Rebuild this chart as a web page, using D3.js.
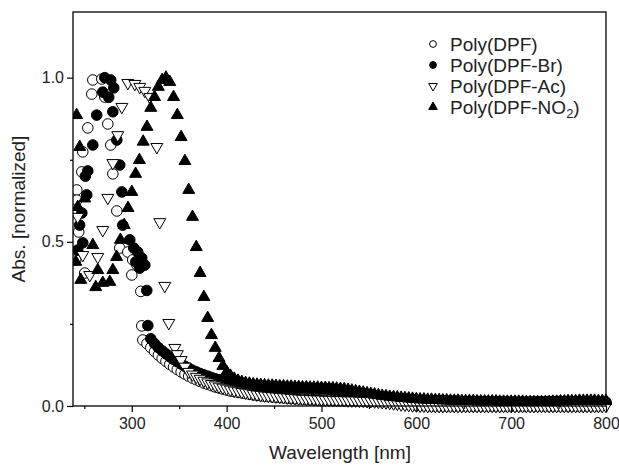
<!DOCTYPE html>
<html>
<head>
<meta charset="utf-8">
<script src="https://cdn.jsdelivr.net/npm/d3@7/dist/d3.min.js"></script>
<style>
  html, body { margin: 0; padding: 0; background: #fff; }
  svg { display: block; font-family: "Liberation Sans", Arial, sans-serif; }
</style>
</head>
<body>
<svg id="chart" width="619" height="468"></svg>
<script>
// Normalized UV-vis absorption of four polymers.
// Short-wavelength region (irregular, noisy readings) as [wavelength, value] pairs,
// the rest as values on a 4 nm grid starting at the given wavelength.
const STEP = 4;

const dpfScatter = [[258.9,0.993],[268.4,0.996],[257.8,0.950],[271.5,0.941],[253.6,0.847],[274.7,0.859],
  [248.3,0.774],[277.8,0.795],[247.3,0.713],[280.0,0.707],[242.0,0.658],[242.0,0.627],[284.2,0.594],
  [244.0,0.530],[240.9,0.445],[250.4,0.405],[287.3,0.481],[295.8,0.469],[301.0,0.445],[300.0,0.399],
  [305.3,0.430],[309.5,0.349],[310.5,0.244],[311.6,0.201]];
const dpfStart = 316;
const dpfValues = [0.190,0.178,0.166,0.155,0.145,0.136,0.127,0.119,0.111,0.104,0.097,0.091,0.085,0.080,0.075,
  0.070,0.066,0.062,0.058,0.055,0.052,0.049,0.046,0.044,0.042,0.040,0.038,0.036,0.034,0.033,0.031,0.030,
  0.029,0.028,0.027,0.026,0.025,0.024,0.023,0.022,0.022,0.021,0.020,0.020,0.019,0.019,0.018,0.018,0.018,
  0.017,0.017,0.017,0.017,0.016,0.016,0.016,0.016,0.015,0.015,0.015,0.014,0.014,0.013,0.013,0.012,0.011,
  0.010,0.009,0.007,0.006,0.004,0.003,0.002,0.001,0.001,0.000,0.000,0.000,0.000,0.000,0.000,0.000,0.000,
  0.000,0.000,0.000,0.000,0.000,0.000,0.000,0.000,0.000,0.000,0.000,0.000,0.000,0.000,0.000,0.000,0.000,
  0.000,0.000,0.000,0.000,0.000,0.000,0.000,0.000,0.000,0.000,0.000,0.000,0.000,0.000,0.000,0.000,0.000,
  0.000,0.000,0.000];

const brScatter = [[271.5,1.000],[277.8,0.993],[281.0,0.969],[269.4,0.956],[275.7,0.940],[263.0,0.886],
  [280.0,0.896],[258.9,0.795],[284.2,0.810],[253.6,0.716],[287.3,0.734],[252.5,0.643],[289.5,0.652],
  [251.0,0.700],[247.3,0.588],[245.0,0.551],[290.5,0.551],[248.3,0.497],[243.0,0.475],[297.9,0.506],
  [302.1,0.481],[306.3,0.469],[310.5,0.451],[313.7,0.429],[308.4,0.420],[304.2,0.439],[315.8,0.352],
  [316.9,0.245]];
const brStart = 320;
const brValues = [0.205,0.190,0.178,0.168,0.159,0.150,0.142,0.135,0.128,0.121,0.115,0.109,0.104,0.099,0.095,
  0.091,0.087,0.083,0.080,0.077,0.074,0.072,0.070,0.068,0.066,0.064,0.063,0.062,0.061,0.060,0.060,0.059,
  0.059,0.058,0.058,0.057,0.057,0.056,0.056,0.055,0.055,0.054,0.054,0.053,0.053,0.052,0.052,0.051,0.050,
  0.049,0.048,0.046,0.044,0.042,0.040,0.038,0.036,0.034,0.032,0.030,0.029,0.027,0.026,0.025,0.024,0.023,
  0.022,0.021,0.020,0.019,0.018,0.017,0.017,0.017,0.016,0.016,0.016,0.016,0.015,0.015,0.015,0.015,0.014,
  0.014,0.014,0.014,0.014,0.013,0.013,0.013,0.013,0.013,0.013,0.013,0.012,0.012,0.012,0.012,0.012,0.012,
  0.012,0.013,0.013,0.013,0.013,0.014,0.014,0.014,0.014,0.014,0.014,0.013,0.013,0.013,0.013,0.013,0.012,
  0.012,0.012,0.012,0.012];

const acScatter = [[295.8,0.984],[303.2,0.981],[308.4,0.972],[313.7,0.960],[319.0,0.941],[289.5,0.911],
  [285.2,0.825],[326.4,0.789],[280.0,0.740],[274.7,0.634],[329.5,0.560],[269.4,0.536],[243.0,0.576],
  [248.3,0.460],[264.1,0.454],[255.7,0.399],[334.8,0.366],[339.0,0.253],[345.4,0.177]];
const acStart = 348;
const acValues = [0.158,0.140,0.120,0.104,0.096,0.089,0.083,0.077,0.072,0.067,0.063,0.059,0.056,0.053,0.050,
  0.047,0.045,0.043,0.041,0.039,0.037,0.035,0.034,0.032,0.031,0.030,0.029,0.028,0.027,0.026,0.025,0.024,
  0.023,0.022,0.022,0.021,0.021,0.020,0.020,0.019,0.019,0.019,0.018,0.018,0.018,0.017,0.017,0.017,0.016,
  0.016,0.015,0.015,0.014,0.013,0.012,0.011,0.010,0.008,0.007,0.005,0.004,0.003,0.002,0.002,0.001,0.001,
  0.000,0.000,0.000,0.000,0.000,0.000,0.000,0.000,0.000,0.000,0.000,0.000,0.000,0.000,0.000,0.000,0.000,
  0.000,0.000,0.000,0.000,0.000,0.000,0.000,0.000,0.000,0.000,0.000,0.000,0.000,0.000,0.000,0.000,0.000,
  0.000,0.000,0.000,0.000,0.000,0.000,0.000,0.000,0.000,0.000,0.000,0.000,0.000,0.000];

const no2Scatter = [[241.8,0.886],[245.1,0.789],[243.0,0.606],[250.4,0.632],[240.9,0.439],[246.2,0.384],
  [258.9,0.490],[264.1,0.414],[269.4,0.375],[276.8,0.378],[262.0,0.362]];
const no2Start = 280;
const no2Values = [0.414,0.454,0.506,0.551,0.603,0.652,0.707,0.749,0.805,0.850,0.908,0.941,0.972,0.993,1.000,
  0.987,0.941,0.886,0.819,0.746,0.658,0.576,0.484,0.405,0.332,0.268,0.216,0.177,0.146,0.122,0.104,0.092,
  0.083,0.077,0.073,0.070,0.068,0.066,0.065,0.064,0.063,0.062,0.062,0.061,0.060,0.060,0.059,0.059,0.058,
  0.058,0.057,0.057,0.056,0.056,0.056,0.055,0.055,0.054,0.054,0.053,0.052,0.051,0.049,0.047,0.045,0.043,
  0.041,0.039,0.037,0.035,0.033,0.031,0.030,0.028,0.027,0.026,0.025,0.024,0.023,0.022,0.021,0.020,0.020,
  0.019,0.019,0.018,0.018,0.017,0.017,0.016,0.016,0.016,0.015,0.015,0.015,0.015,0.014,0.014,0.014,0.014,
  0.014,0.014,0.013,0.013,0.013,0.013,0.013,0.013,0.013,0.012,0.012,0.012,0.012,0.012,0.012,0.012,0.013,
  0.013,0.014,0.014,0.015,0.015,0.015,0.016,0.016,0.016,0.016,0.016,0.015,0.015,0.015];

const seriesNames = ["Poly(DPF)", "Poly(DPF-Br)", "Poly(DPF-Ac)", "Poly(DPF-NO2)"];
const xTicks = [300, 400, 500, 600, 700, 800];
const xMinorTicks = [250, 350, 450, 550, 650, 750];
const yTicks = [0.0, 0.5, 1.0];
const yMinorTicks = [0.25, 0.75];

// ---- layout ----
const svg = d3.select("#chart");
const plotL = 73, plotR = 606, plotT = 12, plotB = 406;
const x = d3.scaleLinear().domain([238, 800]).range([plotL, plotR]);
const y = d3.scaleLinear().domain([0, 1.2]).range([plotB, plotT]);

function toPoints(scatter, start, values) {
  const pts = scatter.map(d => ({ w: d[0], v: d[1] }));
  values.forEach((v, i) => { const w = start + i * STEP; if (w <= 800) pts.push({ w, v }); });
  return pts;
}

const series = [
  { name: seriesNames[0], pts: toPoints(dpfScatter, dpfStart, dpfValues), type: d3.symbolCircle, size: 88, fill: "#fff", rot: 0 },
  { name: seriesNames[1], pts: toPoints(brScatter, brStart, brValues), type: d3.symbolCircle, size: 88, fill: "#000", rot: 0 },
  { name: seriesNames[2], pts: toPoints(acScatter, acStart, acValues), type: d3.symbolTriangle, size: 62, fill: "#fff", rot: 180 },
  { name: seriesNames[3], pts: toPoints(no2Scatter, no2Start, no2Values), type: d3.symbolTriangle, size: 62, fill: "#000", rot: 0 }
];

svg.append("defs").append("clipPath").attr("id", "plotClip")
  .append("rect").attr("x", plotL).attr("y", plotT).attr("width", plotR - plotL + 6).attr("height", plotB - plotT + 8);

const marks = svg.append("g").attr("clip-path", "url(#plotClip)");
series.forEach(s => {
  const sym = d3.symbol().type(s.type).size(s.size);
  marks.append("g").selectAll("path").data(s.pts).join("path")
    .attr("d", sym)
    .attr("transform", d => `translate(${x(d.w)},${y(d.v)}) rotate(${s.rot})`)
    .attr("fill", s.fill)
    .attr("stroke", "#000")
    .attr("stroke-width", 1);
});

// ---- axes ----
svg.append("g").attr("transform", `translate(0,${plotB})`)
  .call(d3.axisBottom(x).tickValues(xTicks).tickSize(6).tickPadding(6).tickFormat(d3.format("d")));
svg.append("g").attr("transform", `translate(0,${plotB})`)
  .call(d3.axisBottom(x).tickValues(xMinorTicks).tickSize(3).tickFormat(""));
svg.append("g").attr("transform", `translate(${plotL},0)`)
  .call(d3.axisLeft(y).tickValues(yTicks).tickSize(6).tickPadding(3).tickFormat(d3.format(".1f")));
svg.append("g").attr("transform", `translate(${plotL},0)`)
  .call(d3.axisLeft(y).tickValues(yMinorTicks).tickSize(3).tickFormat(""));
svg.selectAll(".domain").remove();
svg.selectAll(".tick line").attr("stroke", "#000").attr("stroke-width", 1.2);
svg.selectAll(".tick text").attr("fill", "#222").style("font-size", "16px")
  .style("font-family", "'Liberation Sans', Arial, sans-serif");

svg.append("rect").attr("x", plotL).attr("y", plotT).attr("width", plotR - plotL).attr("height", plotB - plotT)
  .attr("fill", "none").attr("stroke", "#000").attr("stroke-width", 1.3);

svg.append("text").attr("x", 340).attr("y", 459).attr("text-anchor", "middle")
  .style("font-size", "19px").attr("fill", "#222").text("Wavelength [nm]");
svg.append("text").attr("transform", `translate(25,${(plotT + plotB) / 2}) rotate(-90)`)
  .attr("text-anchor", "middle").style("font-size", "19px").attr("fill", "#222").text("Abs. [normalized]");

// ---- legend ----
const legend = svg.append("g").attr("transform", "translate(433,44)");
series.forEach((s, i) => {
  const row = legend.append("g").attr("transform", `translate(0,${i * 21})`);
  row.append("path").attr("d", d3.symbol().type(s.type).size(s.type === d3.symbolCircle ? 36 : 32))
    .attr("transform", `rotate(${s.rot})`)
    .attr("fill", s.fill).attr("stroke", "#000").attr("stroke-width", 1);
  const t = row.append("text").attr("x", 17).attr("y", 7).style("font-size", "19px").attr("fill", "#222");
  if (s.name.endsWith("NO2)")) {
    t.append("tspan").text("Poly(DPF-NO");
    t.append("tspan").attr("dy", 4).style("font-size", "13px").text("2");
    t.append("tspan").attr("dy", -4).text(")");
  } else {
    t.text(s.name);
  }
});
</script>
</body>
</html>
